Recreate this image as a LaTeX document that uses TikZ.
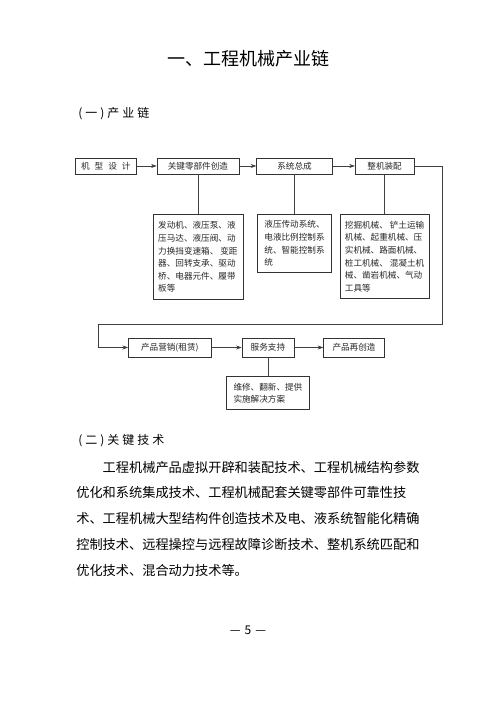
\documentclass[tikz,border=0pt]{standalone}
\usepackage{fontspec}
\setmainfont{Noto Sans CJK SC}
\usetikzlibrary{arrows,arrows.meta,positioning}

\begin{document}
\begin{tikzpicture}[
        x=1pt, y=1pt,
        >={Stealth[length=5.5pt, width=4pt]}, % arrow head style
        line width=0.6pt,
        auto]

        \tikzstyle{every node}=[inner sep=0pt]
        \tikzset{stage/.style={draw=black!80, minimum height=16pt,
            font=\fontsize{8.6}{10}\selectfont, text=black!85}}
        \tikzset{detail/.style={draw=black!80, align=left,
            font=\fontsize{8.6}{12.6}\selectfont, text=black!85}}
        \tikzset{link/.style={draw=black!75}}
        \tikzset{heading/.style={anchor=west,
            font=\fontsize{12}{14}\selectfont\addfontfeature{LetterSpace=25}}}
        \tikzset{para/.style={anchor=west, font=\fontsize{13.2}{16}\selectfont}}

        \useasboundingbox (0,0) rectangle (496,702);

        % titles
        \node[font=\fontsize{18}{20}\selectfont] (title) at (248.5,643.5) {一、工程机械产业链};
        \node[heading] (chain) at (78,588) {(一)产业链};

        % top row
        \node[stage, minimum width=61pt, anchor=west] (design) at (75,536)
            {机\hspace{5pt}型\hspace{5pt}设\hspace{5pt}计};
        \node[stage, minimum width=82pt, right=20pt of design] (parts) {关键零部件创造};
        \node[stage, minimum width=76pt, right=17pt of parts] (system) {系统总成};
        \node[stage, minimum width=59pt, right=22pt of system] (assembly) {整机装配};

        % details of the top row
        \node[detail, minimum width=90pt, minimum height=85pt, below=40pt of parts] (partsinfo)
            {发动机、液压泵、液\\压马达、液压阀、动\\力换挡变速箱、 变距\\器、回转支承、驱动\\桥、电器元件、履带\\板等};
        \node[detail, minimum width=74pt, minimum height=58pt, below=40pt of system] (systeminfo)
            {液压传动系统、\\电液比例控制系\\统、智能控制系\\统};
        \node[detail, minimum width=89pt, minimum height=84pt, below=40pt of assembly] (assemblyinfo)
            {挖掘机械、 铲土运输\\机械、起重机械、压\\实机械、路面机械、\\桩工机械、 混凝土机\\械、凿岩机械、气动\\工具等};

        % bottom row
        \node[stage, minimum width=83pt, minimum height=19pt, anchor=west] (sales) at (128,354.5)
            {产品营销(租赁)};
        \node[stage, minimum width=52pt, minimum height=19pt, right=30pt of sales] (service) {服务支持};
        \node[stage, minimum width=61pt, minimum height=19pt, right=29pt of service] (recreate) {产品再创造};
        \node[detail, minimum width=83pt, minimum height=33pt, below=19pt of service] (serviceinfo)
            {维修、翻新、提供\\实施解决方案};

        \coordinate (turnR) at (442,378);
        \coordinate (turnL) at (98,378);

        \path[link]
        (design) edge[->] (parts)
        (parts) edge[->] (system)
        (system) edge[->] (assembly)
        (parts) edge (partsinfo)
        (system) edge (systeminfo)
        (assembly) edge (assemblyinfo)
        (sales) edge[->] (service)
        (service) edge[->] (recreate)
        (service) edge (serviceinfo)
        ;
        \draw[link, ->] (assembly.east) -| (turnR) -- (turnL) |- (sales.west);

        % key technology
        \node[heading] (keytech) at (78,261) {(二)关键技术};
        \foreach \txt [count=\i] in {
            工程机械产品虚拟开辟和装配技术、工程机械结构参数,
            优化和系统集成技术、工程机械配套关键零部件可靠性技,
            术、工程机械大型结构件创造技术及电、液系统智能化精确,
            控制技术、远程操控与远程故障诊断技术、整机系统匹配和,
            优化技术、混合动力技术等。}
        {
            \ifnum\i=1
                \node[para] (line\i) at (102.4,235) {\txt};
            \else
                \node[para] (line\i) at (76,{235-25.75*(\i-1)}) {\txt};
            \fi
        }

        % page number
        \node[font=\fontsize{12}{14}\selectfont] (page) at (248,72) {—\hspace{4pt}5\hspace{4pt}—};
    \end{tikzpicture}
\end{document}
